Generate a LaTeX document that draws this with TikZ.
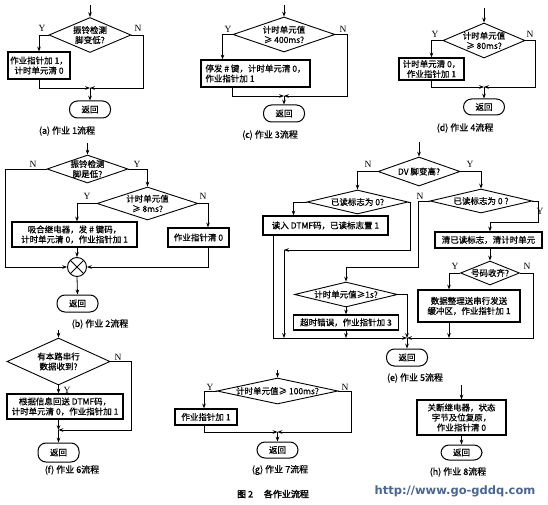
\documentclass[tikz,border=0pt]{standalone}
\usepackage{fontspec}
\setmainfont{Noto Sans CJK SC}[FakeBold=0.6]
\newfontfamily\boldcjk{Noto Sans CJK SC}[FakeBold=2]
\newfontfamily\latinyn{Liberation Serif}
\newfontfamily\weburl{DejaVu Sans}
\usetikzlibrary{arrows.meta,shapes.geometric}
\newcommand\flowfont{\fontsize{8.5}{10}\selectfont}
\newcommand\capfont{\fontsize{9}{10}\selectfont}
\definecolor{webblue}{RGB}{72,102,150}

\begin{document}
\begin{tikzpicture}[
    x=1pt, y=-1pt,
    >={Stealth[length=4.8pt,width=3.6pt]},
    flow/.style={draw=black, line width=0.8pt},
    box/.style={rectangle, draw=black, line width=1.2pt, inner sep=1pt, align=center, font=\flowfont},
    dec/.style={diamond, draw=black, line width=0.9pt, inner sep=-1pt, align=center, font=\flowfont},
    ret/.style={rectangle, rounded corners=8pt, draw=black, line width=1pt, minimum width=41pt, minimum height=17pt, inner sep=0pt, font=\flowfont},
    mix/.style={circle, draw=black, line width=0.9pt, minimum size=19pt, inner sep=0pt,
      path picture={\draw[line width=0.9pt] (path picture bounding box.north west) -- (path picture bounding box.south east)
        (path picture bounding box.south west) -- (path picture bounding box.north east);}},
    tag/.style={font=\latinyn\fontsize{9.5}{10}\selectfont, inner sep=0.5pt},
    capt/.style={font=\capfont, inner sep=0pt},
  ]
  \path[use as bounding box, fill=white] (0,0) rectangle (548,505);

  %% ---------------- (a) job 1 ----------------
  \coordinate (a0) at (90,5);
  \node[dec, aspect=2.3, minimum width=82pt, minimum height=35pt] (ad) at (90,35) {振铃检测\\脚变低?};
  \node[box, minimum width=62pt, minimum height=27pt] (ab) at (39,65.5) {作业指针加 1，\\计时单元清 0};
  \node[ret] (ar) at (90,109.5) {返回};
  \coordinate (aj) at (90,88);
  \coordinate (aN) at (143,88);
  \draw[flow,->] (a0) -- (ad.north);
  \draw[flow,->] (ad.west) -| (ab.north);
  \draw[flow,->] (ab.south) |- (aj);
  \draw[flow,->] (ad.east) -| (aN) -- (aj);
  \draw[flow,->] (aj) -- (ar.north);

  %% ---------------- (c) job 3 ----------------
  \coordinate (c0) at (284,5);
  \node[dec, aspect=2.9, minimum width=102pt, minimum height=35pt] (cd) at (284,34.5) {计时单元值\\≥ 400ms?};
  \node[box, align=left, minimum width=109pt, minimum height=27pt] (cb) at (255.5,73.5) {停发 \# 键，计时单元清 0，\\作业指针加 1};
  \node[ret] (cr) at (284,113.5) {返回};
  \coordinate (cj) at (284,96);
  \coordinate (cN) at (347,96);
  \draw[flow,->] (c0) -- (cd.north);
  \draw[flow,->] (cd.west) -| ([xshift=-33pt]cb.north);
  \draw[flow,->] ([xshift=-23pt]cb.south) |- (cj);
  \draw[flow,->] (cd.east) -| (cN) -- (cj);
  \draw[flow,->] (cj) -- (cr.north);

  %% ---------------- (d) job 4 ----------------
  \coordinate (d0) at (484,8);
  \node[dec, aspect=2.3, minimum width=82pt, minimum height=35pt] (dd) at (484,40.5) {计时单元值\\≥ 80ms?};
  \node[box, minimum width=65pt, minimum height=22pt] (db) at (431.5,69) {计时单元清 0，\\作业指针加 1};
  \node[ret, minimum height=16pt] (dr) at (484,107) {返回};
  \coordinate (dj) at (484,87);
  \coordinate (dN) at (535,87);
  \draw[flow,->] (d0) -- (dd.north);
  \draw[flow,->] (dd.west) -| (db.north);
  \draw[flow,->] (db.south) |- (dj);
  \draw[flow,->] (dd.east) -| (dN) -- (dj);
  \draw[flow,->] (dj) -- (dr.north);

  %% ---------------- (b) job 2 ----------------
  \coordinate (b0) at (87.5,143);
  \node[dec, aspect=2.9, minimum width=81pt, minimum height=28pt] (bd1) at (87.5,169) {振铃检测\\脚是低?};
  \node[dec, aspect=3.1, minimum width=101pt, minimum height=33pt] (bd2) at (147.5,203.5) {计时单元值\\≥ 8ms?};
  \node[box, minimum width=125pt, minimum height=25pt] (bb1) at (74.5,234.5) {吸合继电器，发 \# 键码，\\计时单元清 0，作业指针加 1};
  \node[box, minimum width=61pt, minimum height=19pt] (bb2) at (198.5,237.5) {作业指针清 0};
  \node[mix] (bx) at (77,267) {};
  \node[ret] (br) at (77.5,303.5) {返回};
  \coordinate (bN) at (5,267);
  \draw[flow,->] (b0) -- (bd1.north);
  \draw[flow,->] (bd1.east) -| (bd2.north);
  \draw[flow,->] (bd2.west) -| ([xshift=2.5pt]bb1.north);
  \draw[flow,->] (bd2.east) -| ([xshift=9.5pt]bb2.north);
  \draw[flow,->] ([xshift=2.5pt]bb1.south) -- (bx.north);
  \draw[flow,->] ([xshift=9.5pt]bb2.south) |- (bx.east);
  \draw[flow,->] (bd1.west) -| (bN) -- (bx.west);
  \draw[flow,->] (bx.south) -- (br.north);

  %% ---------------- (e) job 5 ----------------
  \coordinate (e0) at (419,142);
  \node[dec, aspect=2.8, minimum width=82pt, minimum height=29pt] (ed1) at (419,171.5) {DV 脚变高?};
  \node[dec, aspect=4.2, minimum width=101pt, minimum height=24pt] (ed2) at (357.5,202) {已读标志为 0?};
  \node[dec, aspect=4.2, minimum width=102pt, minimum height=24pt] (ed3) at (481,201) {已读标志为 0 ?};
  \node[box, minimum width=125pt, minimum height=19pt] (eb1) at (325.5,225.5) {读入 DTMF码，已读标志置 1};
  \node[dec, aspect=4.1, minimum width=103pt, minimum height=25pt] (ed4) at (346,294.5) {计时单元值≥1s?};
  \node[box, minimum width=105pt, minimum height=15pt] (eb4) at (346,322.5) {超时错误，作业指针加 3};
  \node[box, minimum width=107pt, minimum height=16pt] (eb5) at (488.5,240) {清已读标志，清计时单元};
  \node[dec, aspect=2.5, minimum width=59pt, minimum height=24pt] (ed5) at (490,273) {号码收齐?};
  \node[box, minimum width=102pt, minimum height=32pt] (eb6) at (469,306) {数据整理送串行发送\\缓冲区，作业指针加 1};
  \node[ret] (er) at (407,357.5) {返回};
  \coordinate (ek) at (410,250);
  \coordinate (ew) at (284,250);
  \coordinate (eN) at (418,267);
  \coordinate (eY1) at (538,222);
  \coordinate (eY2) at (490,222);
  \coordinate (eb2) at (284,338);
  \coordinate (eb3) at (346,338);
  \coordinate (ej) at (407,338);
  \coordinate (eb5b) at (449,338);
  \coordinate (eR) at (533,338);
  \draw[flow,->] (e0) -- (ed1.north);
  \draw[flow,->] (ed1.west) -| (ed2.north);
  \draw[flow,->] (ed1.east) -| (ed3.north);
  \draw[flow,->] (ed2.west) -| ([xshift=-32pt]eb1.north);
  \draw[flow,->] ([xshift=-52.5pt]eb1.south) |- (ej);
  \draw[flow,->] (ed2.east) -| (ek) -- (ew);
  \draw[flow,->] (ew) -- (eb2);
  \draw[flow,->] (ed3.west) -| (eN) -| (ed4.north);
  \draw[flow,->] (ed4.south) -- (eb4.north);
  \draw[flow,->] (eb4.south) -- (eb3);
  \draw[flow,->] (ed4.east) -| (ej);
  \draw[flow,->] (ed3.east) -| (eY1) -- (eY2) -- ([xshift=1.5pt]eb5.north);
  \draw[flow,->] ([xshift=1.5pt]eb5.south) -- (ed5.north);
  \draw[flow,->] (ed5.west) -| ([xshift=-20pt]eb6.north);
  \draw[flow,->] ([xshift=-20pt]eb6.south) -- (eb5b);
  \draw[flow,->] (ed5.east) -| (eR) -- (ej);
  \draw[flow,->] (ej) -- (er.north);

  %% ---------------- (f) job 6 ----------------
  \coordinate (f0) at (58.5,330);
  \node[dec, aspect=2.2, minimum width=103pt, minimum height=47pt] (fd) at (58.5,361.5) {有本路串行\\数据收到?};
  \node[box, minimum width=116pt, minimum height=25pt] (fb) at (65,406.5) {根据信息回送 DTMF码，\\计时单元清 0，作业指针加 1};
  \node[ret, minimum height=19pt] (fr) at (58.5,452.5) {返回};
  \coordinate (fj) at (58.5,430);
  \coordinate (fN) at (131,430);
  \draw[flow,->] (f0) -- (fd.north);
  \draw[flow,->] (fd.south) -- ([xshift=-6.5pt]fb.north);
  \draw[flow,->] ([xshift=-6.5pt]fb.south) -- (fj);
  \draw[flow,->] (fd.east) -| (fN) -- (fj);
  \draw[flow,->] (fj) -- (fr.north);

  %% ---------------- (g) job 7 ----------------
  \coordinate (g0) at (277.5,370);
  \node[dec, aspect=4.6, minimum width=121pt, minimum height=26pt] (gd) at (277.5,391) {计时单元值≥ 100ms?};
  \node[box, minimum width=62pt, minimum height=16pt] (gb) at (206,417) {作业指针加 1};
  \node[ret, minimum height=16pt] (gr) at (277.5,450) {返回};
  \coordinate (gj) at (277.5,432);
  \coordinate (gN) at (351,432);
  \draw[flow,->] (g0) -- (gd.north);
  \draw[flow,->] (gd.west) -| ([xshift=-2pt]gb.north);
  \draw[flow,->] ([xshift=-2pt]gb.south) |- (gj);
  \draw[flow,->] (gd.east) -| (gN) -- (gj);
  \draw[flow,->] (gj) -- (gr.north);

  %% ---------------- (h) job 8 ----------------
  \coordinate (h0) at (461.5,385);
  \node[box, minimum width=89pt, minimum height=35pt] (hb) at (461.5,417.5) {关断继电器，状态\\字节及位复原，\\作业指针清 0};
  \node[ret, minimum height=15pt] (hr) at (461.5,452.5) {返回};
  \draw[flow,->] (h0) -- (hb.north);
  \draw[flow,->] (hb.south) -- (hr.north);

  %% ---------------- Y / N marks ----------------
  \foreach \n/\x/\y/\t in {aY/42/28/Y, aN/138/28/N, cY/228/29/Y, cN/343/29/N,
      dY/435/34/Y, dN/530/34/N, b1N/33/164/N, b1Y/137/164/Y, b2Y/87/196/Y, b2N/203/196/N,
      e1N/368/164/N, e1Y/470/164/Y, e3N/420/196/N, e3Y/540/211/Y, e5Y/455/266/Y, e5N/527/266/N,
      fN/118/357/N, fY/67/390/Y, gY/210/387/Y, gN/345/387/N}
    \node[tag] (l\n) at (\x,\y) {\t};

  %% ---------------- captions ----------------
  \foreach \n/\x/\y/\t in {a/67/131/(a) 作业 1流程, c/270/135/(c) 作业 3流程, d/465/128/(d) 作业 4流程,
      b/100/324/(b) 作业 2流程, e/415/378/(e) 作业 5流程, f/72/470/(f) 作业 6流程,
      g/280/470/(g) 作业 7流程, h/458/472/(h) 作业 8流程}
    \node[capt] (cap\n) at (\x,\y) {\t};
  \node[capt] (fig) at (273,494) {\boldcjk 图 2\hspace{1.2em}各作业流程};
  \node[inner sep=0pt, text=webblue, font=\weburl\bfseries\fontsize{11.5}{12}\selectfont] (web) at (455,491) {http://www.go-gddq.com};

\end{tikzpicture}
\end{document}
